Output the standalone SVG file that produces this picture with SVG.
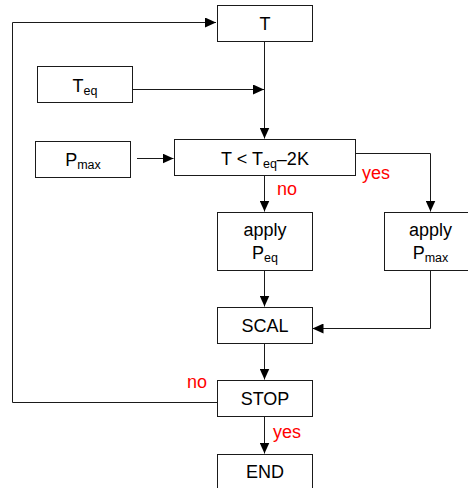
<svg xmlns="http://www.w3.org/2000/svg" width="468" height="488" viewBox="0 0 468 488">
  <style>
    .box { fill: #ffffff; stroke: #1a1a1a; stroke-width: 1; }
    .wire { fill: none; stroke: #1a1a1a; stroke-width: 1; }
    .lbl { font-family: "Liberation Sans", Arial, sans-serif; font-size: 18px; fill: #000; text-anchor: middle; }
    .sub { font-size: 12.5px; }
    .cond { font-family: "Liberation Sans", Arial, sans-serif; font-size: 18px; fill: #ff0000; }
  </style>
  <defs>
    <marker id="arrow" viewBox="0 0 11 10" refX="11" refY="5" markerWidth="11" markerHeight="10" markerUnits="userSpaceOnUse" orient="auto">
      <path d="M0,0 L11,5 L0,10 Z" fill="#000"/>
    </marker>
  </defs>

  <g id="connectors">
    <!-- loop back from STOP to T -->
    <path class="wire" d="M217,402.5 H12.5 V22.5 H216" marker-end="url(#arrow)"/>
    <!-- T down to decision -->
    <path class="wire" d="M264.5,41 V138.5" marker-end="url(#arrow)"/>
    <!-- Teq joins the T line -->
    <path class="wire" d="M133,89.5 H264" marker-end="url(#arrow)"/>
    <!-- Pmax into decision -->
    <path class="wire" d="M137,158.5 H173.5" marker-end="url(#arrow)"/>
    <!-- decision: no -->
    <path class="wire" d="M264.5,175 V211.5" marker-end="url(#arrow)"/>
    <!-- decision: yes -->
    <path class="wire" d="M356,153.5 H430.5 V211.5" marker-end="url(#arrow)"/>
    <!-- apply Peq to SCAL -->
    <path class="wire" d="M264.5,271 V306.5" marker-end="url(#arrow)"/>
    <!-- apply Pmax to SCAL -->
    <path class="wire" d="M430.5,271 V328.5 H312.5" marker-end="url(#arrow)"/>
    <!-- SCAL to STOP -->
    <path class="wire" d="M264.5,344 V379.5" marker-end="url(#arrow)"/>
    <!-- STOP to END -->
    <path class="wire" d="M264.5,417 V453.5" marker-end="url(#arrow)"/>
  </g>

  <g id="node-T">
    <rect class="box" x="217.5" y="5.5" width="95" height="36"/>
    <text class="lbl" x="265" y="29.5">T</text>
  </g>

  <g id="node-Teq">
    <rect class="box" x="37.5" y="66.5" width="95" height="36"/>
    <text class="lbl" x="85" y="91.5">T<tspan class="sub" dy="3">eq</tspan></text>
  </g>

  <g id="node-Pmax">
    <rect class="box" x="35.5" y="141.5" width="95" height="36"/>
    <text class="lbl" x="83" y="165.5">P<tspan class="sub" dy="3">max</tspan></text>
  </g>

  <g id="node-decision">
    <rect class="box" x="174.5" y="139.5" width="181" height="36"/>
    <text class="lbl" x="265" y="164.5">T &lt; T<tspan class="sub" dy="3">eq</tspan><tspan dy="-3">–2K</tspan></text>
  </g>

  <g id="node-applyPeq">
    <rect class="box" x="217.5" y="212.5" width="95" height="58"/>
    <text class="lbl" x="265" y="236">apply</text>
    <text class="lbl" x="265" y="259">P<tspan class="sub" dy="3">eq</tspan></text>
  </g>

  <g id="node-applyPmax">
    <rect class="box" x="384.5" y="212.5" width="92" height="58"/>
    <text class="lbl" x="430.5" y="236">apply</text>
    <text class="lbl" x="430.5" y="259">P<tspan class="sub" dy="3">max</tspan></text>
  </g>

  <g id="node-SCAL">
    <rect class="box" x="217.5" y="307.5" width="95" height="36"/>
    <text class="lbl" x="265" y="332">SCAL</text>
  </g>

  <g id="node-STOP">
    <rect class="box" x="217.5" y="380.5" width="95" height="36"/>
    <text class="lbl" x="265" y="405">STOP</text>
  </g>

  <g id="node-END">
    <rect class="box" x="217.5" y="454.5" width="95" height="37"/>
    <text class="lbl" x="265" y="478">END</text>
  </g>

  <g id="branch-labels">
    <text class="cond" x="277" y="195">no</text>
    <text class="cond" x="362" y="179">yes</text>
    <text class="cond" x="187" y="388">no</text>
    <text class="cond" x="273" y="438">yes</text>
  </g>
</svg>
